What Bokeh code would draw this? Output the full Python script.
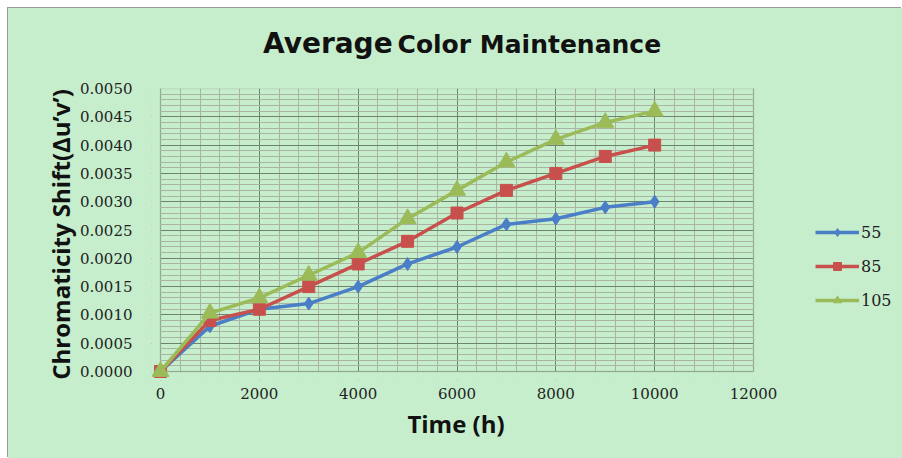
from bokeh.plotting import figure
from bokeh.layouts import column
from bokeh.models import (Range1d, SingleIntervalTicker, NumeralTickFormatter,
                          Legend, LegendItem, Div, BoxAnnotation)
from bokeh.embed import file_html
from bokeh.resources import INLINE

# ---- data ----
hours = [0, 1000, 2000, 3000, 4000, 5000, 6000, 7000, 8000, 9000, 10000]
s55 = [0.0000, 0.0008, 0.0011, 0.0012, 0.0015, 0.0019, 0.0022, 0.0026, 0.0027, 0.0029, 0.0030]
s85 = [0.0000, 0.0009, 0.0011, 0.0015, 0.0019, 0.0023, 0.0028, 0.0032, 0.0035, 0.0038, 0.0040]
s105 = [0.0000, 0.00103, 0.0013, 0.0017, 0.0021, 0.0027, 0.0032, 0.0037, 0.0041, 0.0044, 0.0046]
series_names = ["55", "85", "105"]
title_big = "Average"
title_small = "Color Maintenance"
x_label = "Time (h)"
y_label = "Chromaticity Shift(\u0394u\u2019v\u2019)"
X_MAX = 12000
Y_MAX = 0.005

BG = "#c6eecc"
BLUE = "#4a7ec6"
RED = "#c8504c"
GREEN = "#9bbb59"
FRAME_C = "#7f8f7f"

OFF = 8                      # layout is shifted 8px right/down on the page
W = 894
TITLE_H = 52
FIG_H = 345
XLAB_H = 53
LEFT, PLOT_RIGHT = 160 - OFF, 753 - OFF          # pixel position of x=0 / x=X_MAX
PLOT_TOP, PLOT_BOTTOM = 88 - OFF, 371 - OFF      # pixel position of y=Y_MAX / y=0
PAD = 9   # frame extends a little past the axes so end markers are not cut

sx = (PLOT_RIGHT - LEFT) / X_MAX
sy = (PLOT_BOTTOM - PLOT_TOP) / Y_MAX
x_start, x_end = -PAD / sx, (W - LEFT) / sx
y_start = -PAD / sy

title_div = Div(
    text=('<span style="font-size:28px">%s</span>'
          '<span style="font-size:14px"> </span>'
          '<span style="font-size:25px">%s</span>') % (title_big, title_small),
    width=W, height=TITLE_H,
    styles={"background-color": BG, "font-family": "'DejaVu Sans'", "font-weight": "bold",
            "color": "#111111", "padding-left": "255px", "padding-top": "21px",
            "line-height": "30px", "box-sizing": "border-box", "white-space": "nowrap",
            "margin": "0"})

xlabel_div = Div(
    text=x_label, width=W, height=XLAB_H,
    styles={"background-color": BG, "font-family": "'Open Sans'", "font-weight": "bold",
            "font-size": "24px", "color": "#111111", "text-align": "center",
            "padding-left": "2px", "padding-top": "4px", "line-height": "30px",
            "box-sizing": "border-box", "white-space": "nowrap", "margin": "0"})

p = figure(width=W, height=FIG_H, output_backend="svg", toolbar_location=None,
           x_range=Range1d(x_start, x_end), y_range=Range1d(y_start, Y_MAX))
p.min_border_left = LEFT - PAD
p.min_border_right = 0
p.min_border_top = PLOT_TOP - TITLE_H
p.min_border_bottom = TITLE_H + FIG_H - PLOT_BOTTOM - PAD
p.background_fill_color = BG
p.border_fill_color = BG
p.outline_line_color = None

p.xaxis.ticker = SingleIntervalTicker(interval=2000, num_minor_ticks=5)
p.yaxis.ticker = SingleIntervalTicker(interval=0.0005, num_minor_ticks=5)
p.xgrid.ticker = p.xaxis.ticker
p.ygrid.ticker = p.yaxis.ticker
p.yaxis.formatter = NumeralTickFormatter(format="0.0000")
p.xaxis.formatter = NumeralTickFormatter(format="0")
p.xaxis.bounds = (0, X_MAX)
p.xgrid.bounds = (0, X_MAX)
p.yaxis.bounds = (0, Y_MAX)
p.ygrid.bounds = (0, Y_MAX)

for ax in (p.xaxis, p.yaxis):
    ax.axis_line_color = None
    ax.major_tick_line_color = None
    ax.minor_tick_line_color = None
    ax.major_label_text_font = "DejaVu Serif"
    ax.major_label_text_font_size = "15px"
    ax.major_label_text_color = "#222222"
    ax.axis_label_text_font = "Open Sans"
    ax.axis_label_text_font_style = "bold"
    ax.axis_label_text_color = "#111111"

p.yaxis.axis_label_text_font_size = "24px"
p.xaxis.major_label_standoff = 10 - PAD
p.yaxis.major_label_standoff = 22 - PAD
p.yaxis.axis_label = y_label
p.yaxis.axis_label_standoff = 0

for g in (p.xgrid, p.ygrid):
    g.grid_line_color = "#6f846f"
    g.grid_line_width = 1
    g.minor_grid_line_color = "#a9b4a2"
    g.minor_grid_line_width = 1

r55l = p.line(hours, s55, line_color=BLUE, line_width=3.5)
r55m = p.scatter(hours, s55, marker="diamond", size=13, fill_color=BLUE, line_color=BLUE)
r85l = p.line(hours, s85, line_color=RED, line_width=3.5)
r85m = p.scatter(hours, s85, marker="square", size=12, fill_color=RED, line_color=RED)
r105l = p.line(hours, s105, line_color=GREEN, line_width=3.5)
r105m = p.scatter(hours, s105, marker="triangle", size=17, fill_color=GREEN, line_color=GREEN)

# hide grid lines outside the plot area and outline the plot area
for cover in (BoxAnnotation(left=X_MAX), BoxAnnotation(right=0), BoxAnnotation(top=0)):
    cover.fill_color = BG
    cover.fill_alpha = 1.0
    cover.line_color = None
    cover.level = "underlay"
    p.add_layout(cover)
p.add_layout(BoxAnnotation(left=0, right=X_MAX, bottom=0, top=Y_MAX, fill_alpha=0,
                           line_color=FRAME_C, line_width=1.5, level="underlay"))

legend = Legend(items=[
    LegendItem(label=series_names[0], renderers=[r55l, r55m]),
    LegendItem(label=series_names[1], renderers=[r85l, r85m]),
    LegendItem(label=series_names[2], renderers=[r105l, r105m]),
], location=(815 - 160 + PAD, 371 - 310 + PAD))
legend.background_fill_alpha = 0
legend.border_line_color = None
legend.label_text_font = "DejaVu Serif"
legend.label_text_font_size = "16px"
legend.label_text_color = "#222222"
legend.glyph_width = 44
legend.glyph_height = 20
legend.label_height = 20
legend.spacing = 14
legend.padding = 0
legend.margin = 0
legend.label_standoff = 2
p.add_layout(legend, "center")

layout = column(title_div, p, xlabel_div, spacing=0,
                styles={"background-color": BG, "margin-left": "%dpx" % OFF,
                        "margin-top": "%dpx" % OFF,
                        "box-shadow": "-1px -1px 0 0 #9a9a9a"})
open("out.html", "w").write(file_html(layout, INLINE))
